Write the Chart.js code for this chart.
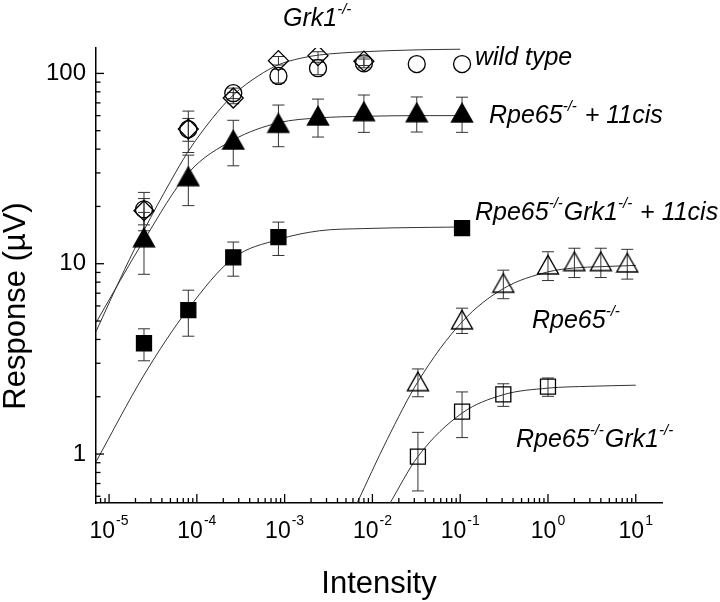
<!DOCTYPE html>
<html><head><meta charset="utf-8">
<script src="https://cdn.jsdelivr.net/npm/chart.js@4.4.1/dist/chart.umd.min.js"></script>
<style>html,body{margin:0;padding:0;background:#fff}canvas{display:block}</style>
</head><body>
<canvas id="c" width="720" height="602"></canvas>
<script>
// ---------- data ----------
const xFull = [2.5e-5, 8e-5, 2.6e-4, 8.5e-4, 2.4e-3, 8e-3, 0.032, 0.105];
const wildType = [19.3, 50.9, 78.7, 97, 106.5, 113, 112, 112];
const wildTypeErr = [4.4, 12.5, 5, 8, 8, 6, 0, 0];

const xGrk1 = [2.5e-5, 8e-5, 2.6e-4, 8.5e-4, 2.4e-3, 8e-3];
const grk1 = [19.0, 51, 74.3, 116.7, 124, 116];
const grk1Err = [3, 7, 5, 6, 6, 6];

const rpe11cis = [13.7, 28.7, 44.7, 54.7, 59.8, 63, 62.2, 62];
const rpe11cisErr = [4.9, 8.5, 12, 13.5, 13.5, 14, 13, 13];

const xRpeGrk11cis = [2.5e-5, 8e-5, 2.6e-4, 8.5e-4, 0.105];
const rpeGrk11cis = [3.82, 5.71, 10.8, 13.8, 15.4];
const rpeGrk11cisErr = [0.73, 1.55, 2.2, 2.75, 1.2];

const xRpe = [0.033, 0.105, 0.31, 1, 2, 4, 8];
const rpe = [2.40, 5.07, 7.9, 9.86, 10.26, 10.26, 10.1];
const rpeErr = [0.4, 0.77, 1.35, 1.7, 1.8, 1.8, 1.8];

const xRpeGrk = [0.033, 0.105, 0.31, 1];
const rpeGrk = [0.97, 1.67, 2.06, 2.26];
const rpeGrkErr = [0.33, 0.45, 0.28, 0.25];

// fitted curves, sampled off the figure
const fitWTx = [7.1e-6, 1.5e-5, 2.5e-5, 5e-5, 8e-5, 1.5e-4, 2.6e-4, 5e-4, 8.5e-4, 1.5e-3, 2.5e-3, 8e-3, 0.033, 0.1];
const fitWTy = [4.4, 9.3, 15, 27, 39, 58, 77, 97, 111, 120, 125, 130, 133, 134];
const fitRpe11x = [7.1e-6, 2.5e-5, 8e-5, 2.6e-4, 8.5e-4, 2.5e-3, 8e-3, 0.033, 0.105];
const fitRpe11y = [4.9, 13.3, 30, 44.7, 55, 58.4, 59.5, 60, 60];
const fitRG11x = [7.1e-6, 2.5e-5, 8e-5, 2.6e-4, 8.5e-4, 2.5e-3, 8e-3, 0.033, 0.105];
const fitRG11y = [0.91, 2.6, 5.8, 10.7, 13.4, 14.9, 15.3, 15.5, 15.6];
const fitRpex = [6.6e-3, 0.0147, 0.033, 0.105, 0.31, 1, 2, 4, 10];
const fitRpey = [0.545, 1.19, 2.4, 4.95, 7.4, 9.06, 9.5, 9.65, 9.8];
const fitRGx = [0.0156, 0.033, 0.105, 0.31, 1, 3, 10];
const fitRGy = [0.545, 0.97, 1.64, 2.05, 2.22, 2.27, 2.30];

const xTickExponents = [-5, -4, -3, -2, -1, 0, 1];
const yTickValues = [1, 10, 100];
const yTitle = 'Response (\u00B5V)';
const xTitle = 'Intensity';
const annotations = [
  [['Grk1', 0], ['-/-', 1]],
  [['wild type', 0]],
  [['Rpe65', 0], ['-/-', 1], [' + 11cis', 0]],
  [['Rpe65', 0], ['-/-', 1], ['Grk1', 0], ['-/-', 1], [' + 11cis', 0]],
  [['Rpe65', 0], ['-/-', 1]],
  [['Rpe65', 0], ['-/-', 1], ['Grk1', 0], ['-/-', 1]]
];
// ---------- layout / style ----------
const annotPos = [[283, 26], [475, 65], [489, 123], [475, 220], [532, 328], [516, 447]];
const FONT = "'Liberation Sans', Arial, sans-serif";

const pts = (xs, ys) => xs.map((x, i) => ({x, y: ys[i]}));

function triCanvas(filled) {
  const c = document.createElement('canvas');
  c.width = 24; c.height = 22;
  const g = c.getContext('2d');
  g.beginPath();
  g.moveTo(12, 1.5); g.lineTo(22.5, 20); g.lineTo(1.5, 20); g.closePath();
  if (filled) { g.fillStyle = '#000'; g.fill(); }
  g.lineWidth = 1.4; g.strokeStyle = '#000'; g.stroke();
  return c;
}

const curve = (xs, ys) => ({
  type: 'line', data: pts(xs, ys), showLine: true, borderColor: '#333', borderWidth: 1,
  pointRadius: 0, cubicInterpolationMode: 'monotone', fill: false, order: 2
});
const marks = (xs, ys, errs, style, r, filled) => ({
  type: 'scatter', data: pts(xs, ys), errBars: errs, showLine: false,
  pointStyle: style, pointRadius: r, pointBorderWidth: 1.3,
  borderColor: '#000', backgroundColor: filled ? '#000' : 'rgba(0,0,0,0)', order: 1
});

const errorBars = {
  id: 'errorBars',
  beforeDatasetsDraw(chart) {
    const {ctx, scales: {x, y}} = chart;
    ctx.save();
    ctx.strokeStyle = '#333'; ctx.lineWidth = 1;
    chart.data.datasets.forEach(ds => {
      if (!ds.errBars) return;
      ds.data.forEach((p, i) => {
        const e = ds.errBars[i];
        if (!e) return;
        const px = x.getPixelForValue(p.x);
        const t = y.getPixelForValue(p.y + e);
        const b = y.getPixelForValue(Math.max(p.y - e, 1e-3));
        ctx.beginPath();
        ctx.moveTo(px, t); ctx.lineTo(px, b);
        ctx.moveTo(px - 6, t); ctx.lineTo(px + 6, t);
        ctx.moveTo(px - 6, b); ctx.lineTo(px + 6, b);
        ctx.stroke();
      });
    });
    ctx.restore();
  }
};

const decor = {
  id: 'decor',
  afterDraw(chart) {
    const {ctx, chartArea: a, scales: {x, y}} = chart;
    ctx.save();
    ctx.strokeStyle = '#000'; ctx.lineWidth = 1.3;
    for (let d = -1; d <= 2; d++) for (let m = 1; m <= 9; m++) {
      const v = m * Math.pow(10, d);
      if (v < y.min || v > y.max) continue;
      const py = y.getPixelForValue(v);
      ctx.beginPath(); ctx.moveTo(a.left, py); ctx.lineTo(a.left + (m === 1 ? 8 : 4.5), py); ctx.stroke();
    }
    for (let d = -6; d <= 1; d++) for (let m = 1; m <= 9; m++) {
      const v = m * Math.pow(10, d);
      if (v < x.min || v > x.max) continue;
      const px = x.getPixelForValue(v);
      ctx.beginPath(); ctx.moveTo(px, a.bottom); ctx.lineTo(px, a.bottom - (m === 1 ? 9 : 5)); ctx.stroke();
    }
    // x tick labels with superscript exponents
    ctx.fillStyle = '#000';
    ctx.textBaseline = 'alphabetic'; ctx.textAlign = 'left';
    xTickExponents.forEach(e => {
      const px = x.getPixelForValue(Math.pow(10, e));
      ctx.font = '23px ' + FONT;
      const w1 = ctx.measureText('10').width;
      const ex = String(e).replace('-', '-');
      ctx.font = '14px ' + FONT;
      const w2 = ctx.measureText(ex).width;
      const start = px - (w1 + w2 + 1) / 2;
      ctx.font = '23px ' + FONT;
      ctx.fillText('10', start, a.bottom + 35);
      ctx.font = '14px ' + FONT;
      ctx.fillText(ex, start + w1 + 1, a.bottom + 22);
    });
    // axis titles
    ctx.font = '31px ' + FONT;
    ctx.textAlign = 'center';
    ctx.fillText(xTitle, 379, 593);
    ctx.save();
    ctx.translate(25, 306);
    ctx.rotate(-Math.PI / 2);
    ctx.fillText(yTitle, 0, 0);
    ctx.restore();
    // annotations
    ctx.textAlign = 'left';
    annotations.forEach((parts, k) => {
      let [cx, cy] = annotPos[k];
      parts.forEach(([t, sup]) => {
        ctx.font = sup ? 'italic 15px ' + FONT : 'italic 25px ' + FONT;
        ctx.fillText(t, cx, sup ? cy - 12 : cy);
        cx += ctx.measureText(t).width + (sup ? 1 : 0);
      });
    });
    ctx.restore();
  }
};

new Chart(document.getElementById('c'), {
  data: {
    datasets: [
      curve(fitWTx, fitWTy),
      curve(fitRpe11x, fitRpe11y),
      curve(fitRG11x, fitRG11y),
      curve(fitRpex, fitRpey),
      curve(fitRGx, fitRGy),
      marks(xFull, wildType, wildTypeErr, 'circle', 8.5, false),
      marks(xGrk1, grk1, grk1Err, 'rectRot', 10, false),
      marks(xFull, rpe11cis, rpe11cisErr, triCanvas(true), 11, true),
      marks(xRpeGrk11cis, rpeGrk11cis, rpeGrk11cisErr, 'rect', 10.6, true),
      marks(xRpe, rpe, rpeErr, triCanvas(false), 11, false),
      marks(xRpeGrk, rpeGrk, rpeGrkErr, 'rect', 10.6, false)
    ]
  },
  options: {
    responsive: false, animation: false, devicePixelRatio: 1, events: [],
    layout: {padding: {left: 0, right: 58, top: 48, bottom: 0}},
    plugins: {legend: {display: false}, tooltip: {enabled: false}},
    scales: {
      x: {
        type: 'logarithmic', min: 7.1e-6, max: 19.9,
        grid: {display: false, drawTicks: false},
        border: {display: true, color: '#000', width: 1.5},
        ticks: {display: false},
        afterFit(s) { s.height = 99; }
      },
      y: {
        type: 'logarithmic', min: 0.553, max: 136,
        grid: {display: false, drawTicks: false},
        border: {display: true, color: '#000', width: 1.5},
        ticks: {color: '#000', padding: 10, autoSkip: false, font: {family: FONT, size: 24},
          callback: v => String(v)},
        afterBuildTicks(s) { s.ticks = yTickValues.map(v => ({value: v})); },
        afterFit(s) { s.width = 96; }
      }
    }
  },
  plugins: [errorBars, decor]
});
</script>
</body></html>
